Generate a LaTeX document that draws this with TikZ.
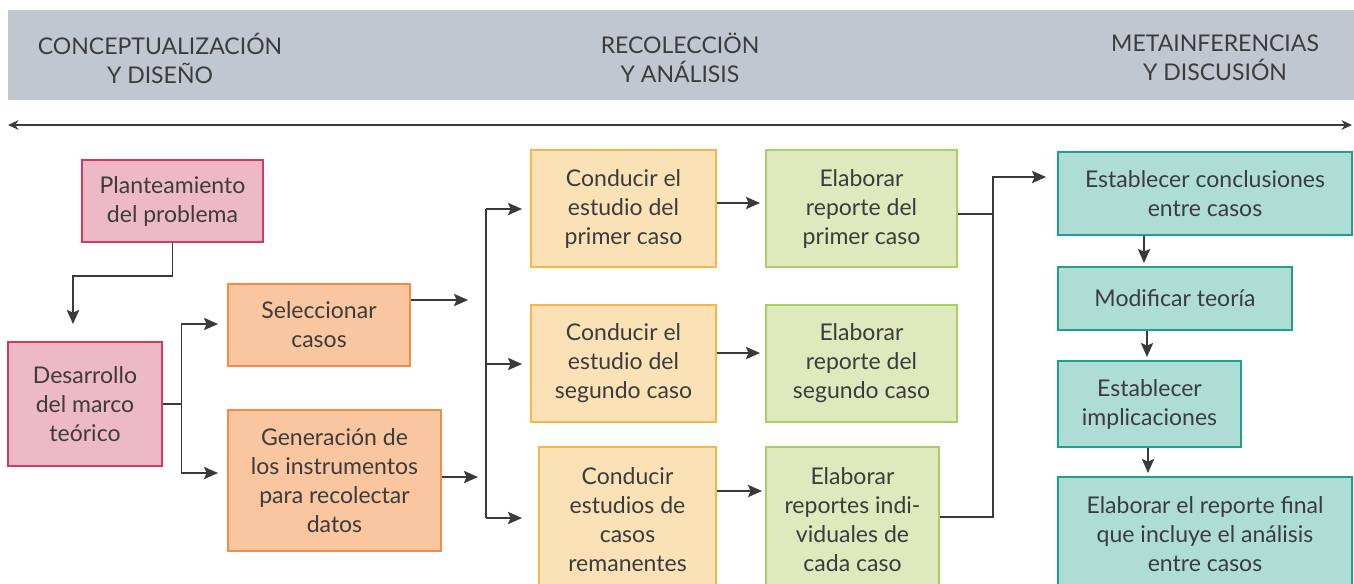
\documentclass[tikz,border=0pt]{standalone}
\usepackage{fontspec}
\setmainfont{Lato}
\usepackage{tikz}
\usetikzlibrary{arrows.meta,positioning}

\definecolor{cabecera}{HTML}{C1C7D0}
\definecolor{texto}{HTML}{3C3C3C}
\definecolor{linea}{HTML}{3A3A3A}
\definecolor{rosaF}{HTML}{EDB9C6}
\definecolor{rosaB}{HTML}{D7385F}
\definecolor{naranjaF}{HTML}{F9C6A0}
\definecolor{naranjaB}{HTML}{F48C48}
\definecolor{amarilloF}{HTML}{FAE1B6}
\definecolor{amarilloB}{HTML}{F7B54A}
\definecolor{verdeF}{HTML}{DEE9BD}
\definecolor{verdeB}{HTML}{A8CF63}
\definecolor{turquesaF}{HTML}{AEDDD6}
\definecolor{turquesaB}{HTML}{1FA08E}

\begin{document}
\begin{tikzpicture}[
			x=0.02cm, y=-0.02cm,
			every node/.style={font=\fontsize{13.1}{16.5}\selectfont, text=texto},
			caja/.style={draw, line width=0.8pt, align=center, inner sep=0pt},
			rosa/.style={caja, fill=rosaF, draw=rosaB},
			naranja/.style={caja, fill=naranjaF, draw=naranjaB},
			amarillo/.style={caja, fill=amarilloF, draw=amarilloB},
			verde/.style={caja, fill=verdeF, draw=verdeB},
			turquesa/.style={caja, fill=turquesaF, draw=turquesaB},
			flecha/.style={-{Stealth[length=8pt,width=7pt,inset=1.5pt]}, line width=0.9pt, draw=linea},
			doble/.style={{Stealth[length=6pt,width=5.5pt]}-{Stealth[length=6pt,width=5.5pt]}, line width=0.8pt, draw=linea}
			]

			\clip (0,0) rectangle (1354,583);

			% fases
			\fill[cabecera] (8,10) rectangle (1354,100);
			\node[align=center] (fase1) at (160,58) {CONCEPTUALIZACIÓN\\Y DISEÑO};
			\node[align=center] (fase2) at (680,58) {RECOLECCIÖN\\Y ANÁLISIS};
			\node[align=center] (fase3) at (1215,58) {METAINFERENCIAS\\Y DISCUSIÓN};

			\coordinate (izq) at (8,125);
			\coordinate (der) at (1352,125);
			\draw[doble] (izq) -- (der);

			% cajas
			\node[rosa, minimum width=181*0.02cm, minimum height=82*0.02cm] (plan) at (172.5,201) {Planteamiento\\del problema};
			\node[rosa, minimum width=154*0.02cm, minimum height=124*0.02cm] (marco) at (85,404) {Desarrollo\\del marco\\teórico};
			\node[naranja, minimum width=182*0.02cm, minimum height=82*0.02cm] (selec) at (319,325) {Seleccionar\\casos};
			\node[naranja, minimum width=213*0.02cm, minimum height=141*0.02cm] (gener) at (334.5,480.5) {Generación de\\los instrumentos\\para recolectar\\datos};

			\node[amarillo, minimum width=185*0.02cm, minimum height=117*0.02cm] (cond1) at (623.5,208.5) {Conducir el\\estudio del\\primer caso};
			\node[amarillo, minimum width=185*0.02cm, minimum height=117*0.02cm] (cond2) at (623.5,363.5) {Conducir el\\estudio del\\segundo caso};
			\node[amarillo, minimum width=177*0.02cm, minimum height=145*0.02cm] (cond3) at (627.5,519.5) {Conducir\\estudios de\\casos\\remanentes};

			\node[verde, minimum width=191*0.02cm, minimum height=117*0.02cm] (elab1) at (861.5,208.5) {Elaborar\\reporte del\\primer caso};
			\node[verde, minimum width=191*0.02cm, minimum height=117*0.02cm] (elab2) at (861.5,363.5) {Elaborar\\reporte del\\segundo caso};
			\node[verde, minimum width=173*0.02cm, minimum height=145*0.02cm] (elab3) at (852.5,519.5) {Elaborar\\reportes indi-\\viduales de\\cada caso};

			\node[turquesa, minimum width=294*0.02cm, minimum height=83*0.02cm] (concl) at (1205,193.5) {Establecer conclusiones\\entre casos};
			\node[turquesa, minimum width=234*0.02cm, minimum height=63*0.02cm] (modif) at (1175,298.5) {Modificar teoría};
			\node[turquesa, minimum width=183*0.02cm, minimum height=86*0.02cm] (impl) at (1149.5,404) {Establecer\\implicaciones};
			\node[turquesa, minimum width=294*0.02cm, minimum height=115*0.02cm] (final) at (1205,534.5) {Elaborar el reporte final\\que incluye el análisis\\entre casos};

			% conexiones
			\coordinate (p1) at (73,324);
			\draw[flecha] (plan.south) -- ++(0,33) -| (p1);

			\coordinate (s1) at (218,324);
			\coordinate (s2) at (218,473);
			\draw[flecha] (marco.east) -- ++(19,0) |- (s1);
			\draw[flecha] (marco.east) -- ++(19,0) |- (s2);

			\coordinate (s3) at (468,300);
			\coordinate (s4) at (478,477);
			\draw[flecha] (selec.east |- s3) -- (s3);
			\draw[flecha] (gener.east |- s4) -- (s4);

			\coordinate (b1) at (486,209);
			\coordinate (b2) at (486,364);
			\coordinate (b3) at (486,518);
			\draw[line width=0.9pt, draw=linea] (b1) -- (b3);
			\draw[flecha] (b1) -- ++(36,0);
			\draw[flecha] (b2) -- ++(36,0);
			\draw[flecha] (b3) -- ++(36,0);

			\coordinate (a1) at (760,203);
			\coordinate (a2) at (760,353);
			\coordinate (a3) at (762,491);
			\draw[flecha] (cond1.east |- a1) -- (a1);
			\draw[flecha] (cond2.east |- a2) -- (a2);
			\draw[flecha] (cond3.east |- a3) -- (a3);

			\coordinate (m1) at (993,214);
			\coordinate (m3) at (993,517);
			\coordinate (k1) at (993,177);
			\coordinate (k2) at (1046,177);
			\draw[line width=0.9pt, draw=linea] (elab1.east |- m1) -- (m1);
			\draw[flecha] (elab3.east |- m3) -- (m3) -- (k1) -- (k2);

			\coordinate (v1) at (1144,263);
			\coordinate (v2) at (1147,357);
			\coordinate (v3) at (1148,473);
			\draw[flecha] (concl.south -| v1) -- (v1);
			\draw[flecha] (modif.south -| v2) -- (v2);
			\draw[flecha] (impl.south -| v3) -- (v3);

			\end{tikzpicture}
\end{document}
